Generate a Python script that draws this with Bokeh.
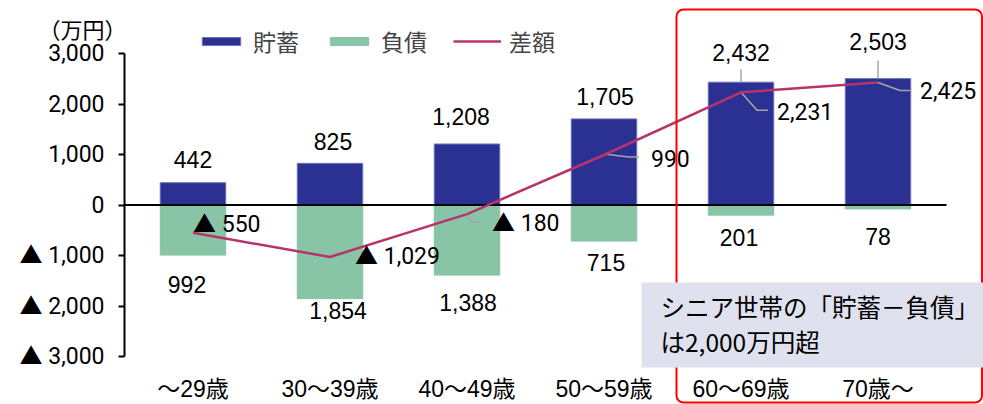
from bokeh.plotting import figure
from bokeh.models import (Range1d, FixedTicker, Legend, LegendItem, BoxAnnotation,
                          Label, ColumnDataSource)
from bokeh.core.properties import value
from bokeh.embed import file_html
from bokeh.resources import INLINE

# ---------------- data ----------------
ages = ["～29歳", "30～39歳", "40～49歳", "50～59歳", "60～69歳", "70歳～"]
savings = [442, 825, 1208, 1705, 2432, 2503]
debts = [992, 1854, 1388, 715, 201, 78]
diffs = [-550, -1029, -180, 990, 2231, 2425]
y_ticks = [-3000, -2000, -1000, 0, 1000, 2000, 3000]
unit_label = "（万円）"
note_lines = ["シニア世帯の「貯蓄－負債」", "は2,000万円超"]
series_names = ["貯蓄", "負債", "差額"]

# ---------------- styles ----------------
NAVY = "#2B3192"
GREEN = "#88C4A6"
CRIMSON = "#B8336A"
LEADER = "#A6A6A6"
FONT = "'Liberation Sans', 'Noto Sans CJK JP', sans-serif"
TFONT = "Roboto, 'Noto Sans CJK JP', sans-serif"   # labels carrying the ▲ mark
JFONT = "'Noto Sans CJK JP', 'Liberation Sans', sans-serif"
FS = "23px"

W, H = 983, 404
LEFT = 124                             # pixel column of the value axis
PX_PER_CAT = 137.0
Y_TOP_PX, Y_BOT_PX = 53.0, 356.0      # pixel rows of +3000 / -3000
px_per_unit = (Y_BOT_PX - Y_TOP_PX) / 6000.0
y_hi = 3000 + Y_TOP_PX / px_per_unit
y_lo = -3000 - (H - Y_BOT_PX) / px_per_unit
x_lo = -LEFT / PX_PER_CAT
x_hi = (W - LEFT) / PX_PER_CAT


def dx(px):
    return (px - LEFT) / PX_PER_CAT


def dy(py):
    return y_hi - py / px_per_unit


# per-label pixel offsets (layout only)
sav_off_x = [0, 3, -6, 1, 0, 0]
sav_off_y = [-23, -22, -27, -22, -30, -37]
debt_off_x = [-6, 8, 1, 2, -2, 0]
debt_off_y = [29, 12, 27, 21, 22, 28]
diff_off_x = [0, 25, 25, 47, 36, 42]
diff_off_y = [-8, 0, 9, 3, 19, 8]
# leader lines: (index, series, [(px dx, px dy), ...])
leaders = [
    (4, "sav", [(0, 0), (0, -13)]),
    (5, "sav", [(0, 0), (0, -18)]),
    (2, "diff", [(1, 1), (4, 8), (14, 8)]),
    (3, "diff", [(0, -1), (25, 2), (35, 2)]),
    (4, "diff", [(0, 0), (16, 18), (27, 18)]),
    (5, "diff", [(0, 0), (22, 8), (32, 8)]),
]

xs = [i + 0.5 for i in range(len(ages))]

p = figure(width=W, height=H, x_range=Range1d(x_lo, x_hi), y_range=Range1d(y_lo, y_hi),
           output_backend="svg", toolbar_location=None, x_axis_location=None,
           min_border_left=0, min_border_right=0, min_border_top=0, min_border_bottom=0)
p.outline_line_color = None
p.grid.visible = False
p.background_fill_color = "white"

# y axis, drawn at x = 0 inside the frame
ax = p.yaxis[0]
ax.fixed_location = 0
ax.ticker = FixedTicker(ticks=y_ticks)
ax.bounds = (-3000, 3000)
ax.major_label_overrides = {t: ("▲ " if t < 0 else "") + f"{abs(t):,}" for t in y_ticks}
ax.minor_tick_line_color = None
ax.major_tick_in = 0
ax.major_tick_out = 6
ax.major_tick_line_width = 2
ax.axis_line_width = 2
ax.major_label_standoff = 14
ax.major_label_text_font = TFONT
ax.major_label_text_font_size = FS
ax.major_label_text_color = "black"

# bars
bw = 65.5 / PX_PER_CAT
r_sav = p.vbar(x=xs, top=savings, bottom=0, width=bw, fill_color=NAVY,
               line_color="#6E73B8", line_width=1)
r_debt = p.vbar(x=xs, top=0, bottom=[-d for d in debts], width=bw, fill_color=GREEN,
                line_color=GREEN)

# zero line
p.segment(x0=[0], y0=[0], x1=[len(ages)], y1=[0], line_color="black", line_width=2)

# leaders
lx, ly = [], []
for i, s, pts in leaders:
    base = savings[i] if s == "sav" else diffs[i]
    lx.append([xs[i] + a / PX_PER_CAT for a, b in pts])
    ly.append([base - b / px_per_unit for a, b in pts])
p.multi_line(xs=lx, ys=ly, line_color=LEADER, line_width=1.5)

# difference line
r_line = p.line(x=xs, y=diffs, line_color=CRIMSON, line_width=2.5)

# data labels
src_sav = ColumnDataSource(dict(x=xs, y=savings, t=[f"{v:,}" for v in savings],
                                ox=sav_off_x, oy=sav_off_y))
p.text(x="x", y="y", text="t", x_offset="ox", y_offset="oy", source=src_sav,
       text_align="center", text_baseline="middle", text_font=value(FONT),
       text_font_size=FS, text_color="black")
src_debt = ColumnDataSource(dict(x=xs, y=[-d for d in debts], t=[f"{v:,}" for v in debts],
                                 ox=debt_off_x, oy=debt_off_y))
p.text(x="x", y="y", text="t", x_offset="ox", y_offset="oy", source=src_debt,
       text_align="center", text_baseline="middle", text_font=value(FONT),
       text_font_size=FS, text_color="black")
src_diff = ColumnDataSource(dict(x=xs, y=diffs,
                                  t=[("▲ " if v < 0 else "") + f"{abs(v):,}" for v in diffs],
                                  ox=diff_off_x, oy=diff_off_y))
p.text(x="x", y="y", text="t", x_offset="ox", y_offset="oy", source=src_diff,
       text_align="left", text_baseline="middle", text_font=value(TFONT),
       text_font_size=FS, text_color="black")

# category labels
p.text(x=xs, y=[-3000] * len(xs), text=ages, y_offset=32, text_align="center",
       text_baseline="middle", text_font=value(FONT), text_font_size=FS, text_color="black")

# legend
legend = Legend(items=[LegendItem(label=series_names[0], renderers=[r_sav]),
                       LegendItem(label=series_names[1], renderers=[r_debt]),
                       LegendItem(label=series_names[2], renderers=[r_line])],
                orientation="horizontal", location=(197, H - 58),
                glyph_width=48, glyph_height=10, label_standoff=8, spacing=26,
                padding=0, margin=0, border_line_color=None, background_fill_alpha=0,
                label_text_font=JFONT, label_text_font_size="23px")
p.add_layout(legend)

# highlight frame and note box
p.add_layout(BoxAnnotation(left=dx(676), right=dx(981.5), top=dy(9), bottom=dy(402),
                           fill_alpha=0, line_color="#FF0000", line_alpha=1, line_width=2,
                           border_radius=7))
p.add_layout(BoxAnnotation(left=dx(641), right=dx(983), top=dy(282), bottom=dy(367),
                           fill_color="#DFE1EE", fill_alpha=1, line_color=None))
for k, line in enumerate(note_lines):
    p.add_layout(Label(x=dx(660), y=dy(306 + 35 * k), text=line, text_align="left",
                       text_baseline="middle", text_font=JFONT, text_font_size="24.5px",
                       text_color="black"))

p.add_layout(Label(x=dx(82), y=dy(27), text=unit_label, text_align="center",
                   text_baseline="middle", text_font=JFONT, text_font_size="22px",
                   text_color="black"))

open("out.html", "w").write(file_html(p, INLINE))
